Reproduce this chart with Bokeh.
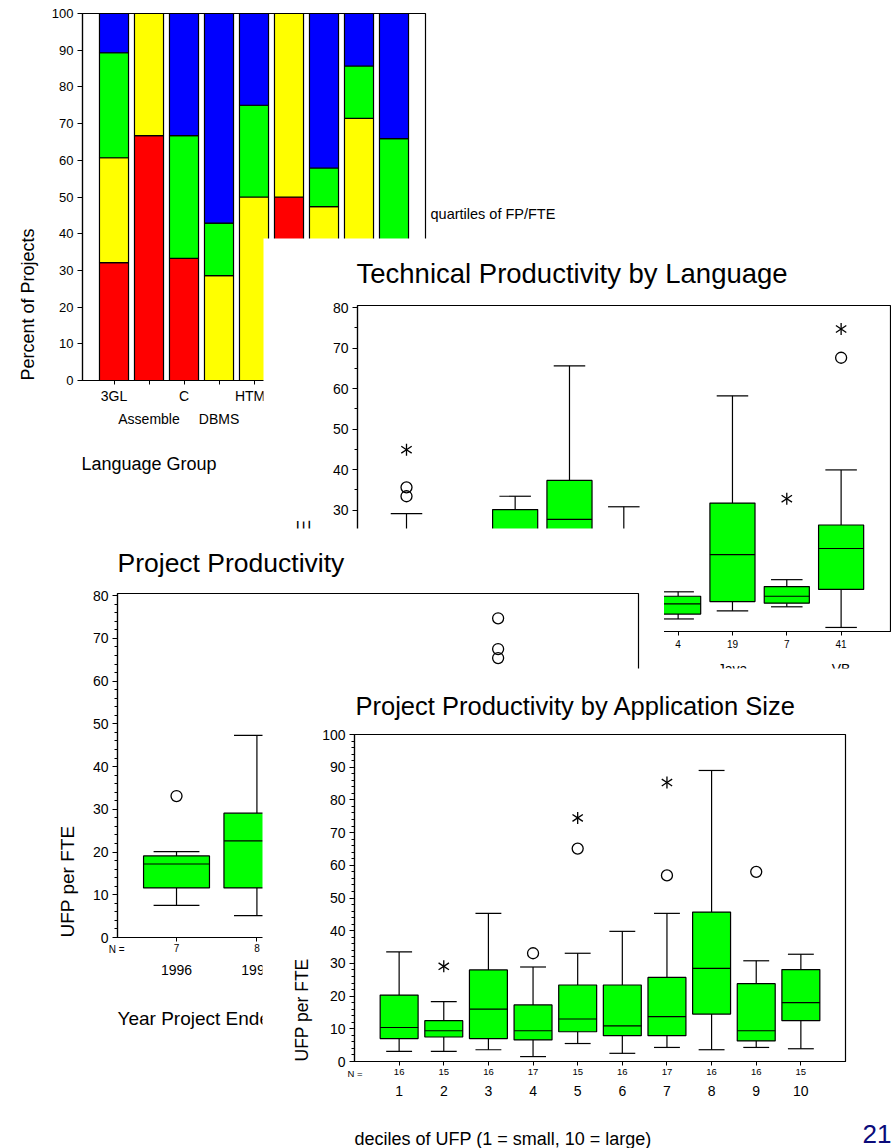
import math
from bokeh.plotting import figure
from bokeh.models import ColumnDataSource, Range1d, LinearAxis, FixedTicker, Label
from bokeh.layouts import column
from bokeh.embed import file_html
from bokeh.resources import INLINE

FONT = "Liberation Sans"

# ---------------- data: stacked bars (percent of projects by FP/FTE quartile) -------------
lang_groups = ["3GL", "Assemble", "C", "DBMS", "HTML", "Informix", "Java", "Other", "VB"]
pct_q1_red = [32.1, 66.7, 33.3, 0.0, 0.0, 50.0, 26.3, 28.6, 22.0]
pct_q2_yellow = [28.6, 33.3, 0.0, 28.6, 50.0, 50.0, 21.1, 42.8, 14.6]
pct_q3_green = [28.6, 0.0, 33.4, 14.3, 25.0, 0.0, 10.5, 14.3, 29.3]
pct_q4_blue = [10.7, 0.0, 33.3, 57.1, 25.0, 0.0, 42.1, 14.3, 34.1]

# ---------------- data: technical productivity by language (box plots) -------------------
tech_n = [28, 3, 3, 7, 4, 4, 19, 7, 41]
tech_low = [1.5, 3.0, 5.0, 10.0, 9.0, 3.1, 5.1, 6.1, 1.0]
tech_q1 = [5.0, 3.5, 6.0, 15.0, 11.0, 4.3, 7.4, 7.0, 10.4]
tech_med = [9.0, 5.0, 19.0, 27.7, 16.0, 6.8, 19.0, 8.7, 20.5]
tech_q3 = [17.0, 7.0, 30.1, 37.3, 23.0, 8.7, 31.7, 11.1, 26.3]
tech_high = [29.1, 8.0, 33.4, 65.6, 30.8, 9.8, 58.2, 12.8, 39.9]
tech_outlier_cat = [0, 0, 8]
tech_outlier_val = [35.6, 33.4, 67.6]
tech_extreme_cat = [0, 7, 8]
tech_extreme_val = [44.9, 32.8, 74.7]

# ---------------- data: project productivity by year ended --------------------------------
years = ["1996", "1997", "1998", "1999", "2000", "2001"]
year_n = [7, 8, 25, 38, 45, 36]
year_low = [7.5, 5.1, 3.0, 2.0, 2.5, 3.0]
year_q1 = [11.6, 11.6, 8.0, 7.0, 8.0, 9.0]
year_med = [17.2, 22.6, 14.0, 12.0, 15.0, 16.0]
year_q3 = [19.1, 29.1, 24.0, 22.0, 28.0, 26.0]
year_high = [20.1, 47.3, 42.0, 45.0, 50.0, 48.0]
year_outlier_cat = [0, 4, 4, 4]
year_outlier_val = [33.1, 74.7, 67.5, 65.4]

# ---------------- data: project productivity by application size decile -----------------
deciles = ["1", "2", "3", "4", "5", "6", "7", "8", "9", "10"]
dec_n = [16, 15, 16, 17, 15, 16, 17, 16, 16, 15]
dec_low = [3.1, 3.1, 3.6, 1.5, 5.5, 2.5, 4.3, 3.6, 4.3, 3.9]
dec_q1 = [7.0, 7.5, 7.0, 6.6, 9.1, 7.9, 7.9, 14.5, 6.3, 12.5]
dec_med = [10.4, 9.4, 16.0, 9.4, 13.0, 10.9, 13.7, 28.5, 9.4, 18.0]
dec_q3 = [20.3, 12.5, 28.0, 17.3, 23.4, 23.4, 25.7, 45.7, 23.8, 28.1]
dec_high = [33.5, 18.3, 45.3, 28.9, 33.1, 39.8, 45.3, 89.0, 30.8, 32.8]
dec_outlier_cat = [4, 5, 7, 9]
dec_outlier_val = [33.1, 65.1, 56.9, 58.0]
dec_extreme_cat = [2, 5, 7]
dec_extreme_val = [29.1, 74.5, 85.3]

GREEN = "#00ff00"


def make_panel(L, T, W, H, frame, xr, yr, z):
    """A white panel at page position (L, T); the chart frame sits at page px `frame`
    and shows data ranges xr / yr. The whole panel is Bokeh's drawing frame."""
    fl, ft, fr, fb = frame
    sx = (xr[1] - xr[0]) / (fr - fl)
    sy = (yr[1] - yr[0]) / (fb - ft)
    x0 = xr[0] + (L - fl) * sx
    x1 = xr[0] + (L + W - fl) * sx
    y1 = yr[0] + (fb - T) * sy
    y0 = yr[0] + (fb - (T + H)) * sy
    p = figure(width=W, height=H, x_range=Range1d(x0, x1), y_range=Range1d(y0, y1),
               x_axis_type=None, y_axis_type=None, toolbar_location=None,
               output_backend="svg", title=None,
               min_border_left=0, min_border_top=0, min_border_right=0, min_border_bottom=0)
    p.outline_line_color = None
    p.background_fill_color = "white"
    p.border_fill_color = "white"
    p.styles = {"position": "absolute", "left": f"{L}px", "top": f"{T}px", "z-index": str(z)}
    # chart frame outline
    p.quad(left=[xr[0]], right=[xr[1]], bottom=[yr[0]], top=[yr[1]],
           fill_color=None, line_color="black", line_width=1.2)

    def to_data(px, py):
        return xr[0] + (px - fl) * sx, yr[0] + (fb - py) * sy
    return p, to_data


def make_axis(ticks, loc, bounds, overrides=None, size="14px", tick_out=4, standoff=3,
              line=True, minor=None):
    ax = LinearAxis(ticker=FixedTicker(ticks=ticks, minor_ticks=minor or []),
                    fixed_location=loc, bounds=bounds)
    ax.major_label_text_font = FONT
    ax.major_label_text_font_size = size
    ax.major_label_text_color = "black"
    ax.major_label_standoff = standoff
    ax.major_tick_in = 0
    ax.major_tick_out = tick_out
    ax.minor_tick_in = 0
    ax.minor_tick_out = 3
    ax.axis_line_color = "black" if line else None
    ax.axis_line_width = 1.2
    ax.major_tick_line_color = "black" if (line and tick_out) else None
    ax.minor_tick_line_color = "black" if minor else None
    if overrides is not None:
        ax.major_label_overrides = overrides
    return ax


def add_text(p, to_data, px, py, text, size, align="left", angle=0.0, color="black"):
    x, y = to_data(px, py)
    p.add_layout(Label(x=x, y=y, text=text, text_font=FONT, text_font_size=size,
                       text_align=align, text_baseline="middle", angle=angle,
                       text_color=color))


def draw_boxes(p, xs, low, q1, med, q3, high, box_w, cap_w):
    src = ColumnDataSource(dict(
        x=xs, low=low, q1=q1, med=med, q3=q3, high=high,
        bl=[x - box_w / 2 for x in xs], br=[x + box_w / 2 for x in xs],
        cl=[x - cap_w / 2 for x in xs], cr=[x + cap_w / 2 for x in xs]))
    kw = dict(line_color="black", line_width=1.2, source=src)
    p.segment(x0="x", y0="q3", x1="x", y1="high", **kw)
    p.segment(x0="x", y0="q1", x1="x", y1="low", **kw)
    p.vbar(x="x", width=box_w, bottom="q1", top="q3", fill_color=GREEN, **kw)
    p.segment(x0="bl", y0="med", x1="br", y1="med", **kw)
    p.segment(x0="cl", y0="high", x1="cr", y1="high", **kw)
    p.segment(x0="cl", y0="low", x1="cr", y1="low", **kw)


def draw_outliers(p, cats, vals):
    p.scatter(x=cats, y=vals, marker="circle", size=11, fill_color=None,
              line_color="black", line_width=1.3)


def draw_extremes(p, cats, vals):
    for ang in (0.0, math.pi):
        p.scatter(x=cats, y=vals, marker="y", size=12, angle=ang,
                  line_color="black", line_width=1.3)


# ======================= Panel 1: stacked bars ===========================
X1, Y1 = (-0.9, 8.9), (0, 100)
p1, d1 = make_panel(0, 0, 570, 490, (82, 13, 425, 380), X1, Y1, 1)
idx1 = list(range(len(lang_groups)))
src1 = ColumnDataSource(dict(x=idx1, red=pct_q1_red, yellow=pct_q2_yellow,
                             green=pct_q3_green, blue=pct_q4_blue))
p1.vbar_stack(["red", "yellow", "green", "blue"], x="x", width=0.83,
              color=["#ff0000", "#ffff00", GREEN, "#0000ff"], line_color="black",
              line_width=1.2, source=src1)
p1.add_layout(make_axis(list(range(0, 101, 10)), X1[0], Y1, size="13px", tick_out=5,
                        standoff=4), "left")
p1.add_layout(make_axis(idx1, 0, X1,
                        {i: (g if i % 2 == 0 else "") for i, g in enumerate(lang_groups)},
                        size="14px", tick_out=4, standoff=3), "below")
p1.add_layout(make_axis([i for i in idx1 if i % 2 == 1], 0, X1,
                        {i: g for i, g in enumerate(lang_groups) if i % 2 == 1},
                        size="14px", tick_out=0, standoff=30, line=False), "below")
add_text(p1, d1, 27, 380, "Percent of Projects", "18px", angle=math.pi / 2)
add_text(p1, d1, 81, 463, "Language Group", "18px")
add_text(p1, d1, 430, 213, "quartiles of FP/FTE", "14.5px")

# ======================= Panel 2: technical productivity =================
X2, Y2 = (-0.902, 8.909), (0, 80.5)
p2, d2 = make_panel(263, 238, 628, 480, (357, 305, 890, 631), X2, Y2, 2)
idx2 = list(range(len(lang_groups)))
draw_boxes(p2, idx2, tech_low, tech_q1, tech_med, tech_q3, tech_high, 0.83, 0.58)
draw_outliers(p2, tech_outlier_cat, tech_outlier_val)
draw_extremes(p2, tech_extreme_cat, tech_extreme_val)
p2.add_layout(make_axis(list(range(0, 81, 10)), X2[0], Y2, size="14px", tick_out=5,
                        standoff=4, minor=list(range(5, 80, 10))), "left")
p2.add_layout(make_axis(idx2, 0, X2, {i: str(n) for i, n in enumerate(tech_n)},
                        size="10px", tick_out=4, standoff=4), "below")
p2.add_layout(make_axis([i for i in idx2 if i % 2 == 0], 0, X2,
                        {i: g for i, g in enumerate(lang_groups) if i % 2 == 0},
                        size="14px", tick_out=0, standoff=29, line=False), "below")
p2.add_layout(make_axis([i for i in idx2 if i % 2 == 1], 0, X2,
                        {i: g for i, g in enumerate(lang_groups) if i % 2 == 1},
                        size="14px", tick_out=0, standoff=52, line=False), "below")
add_text(p2, d2, 356, 273, "Technical Productivity by Language", "27.5px")
add_text(p2, d2, 303, 631, "UFP per FTE", "19px", angle=math.pi / 2)
add_text(p2, d2, 364, 645, "N =", "10px", align="right")

# ======================= Panel 3: project productivity by year ==========
X3, Y3 = (-0.734, 5.746), (0, 80.5)
p3, d3 = make_panel(0, 528, 664, 618, (117, 593, 638, 937), X3, Y3, 3)
idx3 = list(range(len(years)))
draw_boxes(p3, idx3, year_low, year_q1, year_med, year_q3, year_high, 0.82, 0.57)
draw_outliers(p3, year_outlier_cat, year_outlier_val)
p3.add_layout(make_axis(list(range(0, 81, 10)), X3[0], Y3, size="14px", tick_out=5,
                        standoff=4, minor=[m for m in range(0, 81, 2) if m % 10 != 0]),
              "left")
p3.add_layout(make_axis(idx3, 0, X3, {i: str(n) for i, n in enumerate(year_n)},
                        size="10px", tick_out=4, standoff=2), "below")
p3.add_layout(make_axis(idx3, 0, X3, {i: y for i, y in enumerate(years)}, size="14px",
                        tick_out=0, standoff=27, line=False), "below")
add_text(p3, d3, 117, 562, "Project Productivity", "26.5px")
add_text(p3, d3, 67, 937, "UFP per FTE", "19px", angle=math.pi / 2)
add_text(p3, d3, 124, 949, "N =", "10px", align="right")
add_text(p3, d3, 117, 1018, "Year Project Ended", "19px")

# ======================= Panel 4: productivity by application size =====
X4, Y4 = (0, 11), (0, 100)
p4, d4 = make_panel(262, 668, 629, 480, (354, 734, 845, 1061), X4, Y4, 4)
idx4 = list(range(1, len(deciles) + 1))
draw_boxes(p4, idx4, dec_low, dec_q1, dec_med, dec_q3, dec_high, 0.85, 0.58)
draw_outliers(p4, dec_outlier_cat, dec_outlier_val)
draw_extremes(p4, dec_extreme_cat, dec_extreme_val)
p4.add_layout(make_axis(list(range(0, 101, 10)), X4[0], Y4, size="14px", tick_out=5,
                        standoff=4, minor=[m for m in range(0, 101, 2) if m % 10 != 0]),
              "left")
p4.add_layout(make_axis(idx4, 0, X4, {k: str(n) for k, n in zip(idx4, dec_n)},
                        size="9.5px", tick_out=4, standoff=3), "below")
p4.add_layout(make_axis(idx4, 0, X4, {k: d for k, d in zip(idx4, deciles)}, size="14px",
                        tick_out=0, standoff=24, line=False), "below")
add_text(p4, d4, 355, 705, "Project Productivity by Application Size", "25.5px")
add_text(p4, d4, 301, 1061, "UFP per FTE", "17.5px", angle=math.pi / 2)
add_text(p4, d4, 362, 1073, "N =", "9.5px", align="right")
add_text(p4, d4, 354, 1138, "deciles of UFP (1 = small, 10 = large)", "18px")
add_text(p4, d4, 891, 1133, "21", "26px", align="right", color="#0b0b7a")

root = column(p1, p2, p3, p4, width=876, height=1132, sizing_mode="fixed")
root.styles = {"position": "relative"}

open("out.html", "w").write(file_html(root, INLINE))
